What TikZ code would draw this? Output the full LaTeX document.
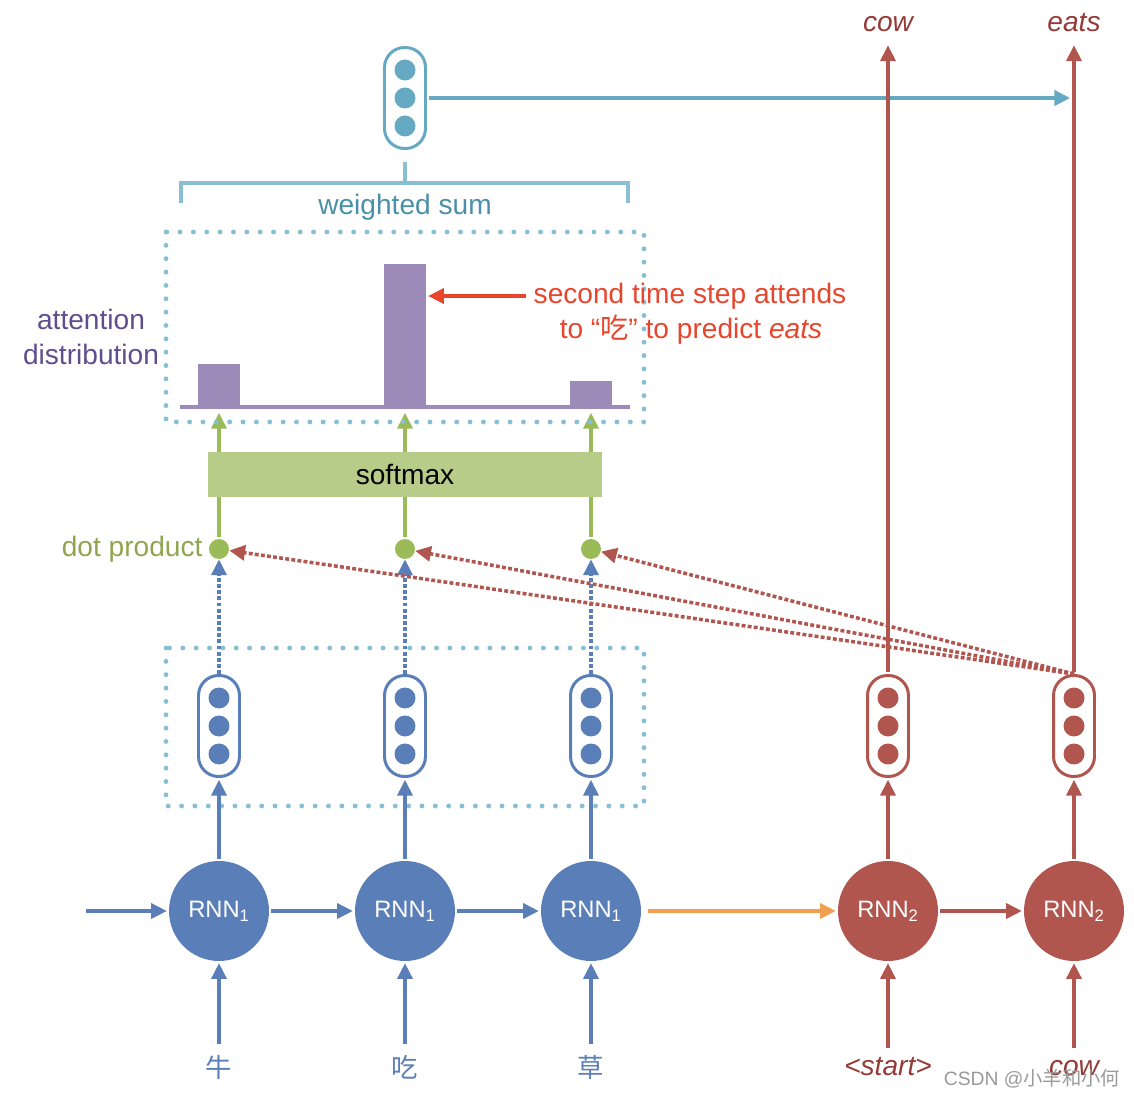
\documentclass[tikz,border=0pt]{standalone}
\usepackage{fontspec}
\setmainfont{Liberation Sans}
\newfontfamily\cjk{Noto Sans CJK SC}
\usetikzlibrary{arrows.meta,positioning,calc}

\definecolor{encblue}{HTML}{5A7FB8}
\definecolor{decred}{HTML}{B0564E}
\definecolor{decword}{HTML}{943B38}
\definecolor{ctxteal}{HTML}{66A9C2}
\definecolor{boxdot}{HTML}{88BFD3}
\definecolor{wsteal}{HTML}{4A8FA8}
\definecolor{attnpurple}{HTML}{9C8BB8}
\definecolor{attnlabel}{HTML}{5E4E8E}
\definecolor{smgreen}{HTML}{9BBB59}
\definecolor{smfill}{HTML}{B8CC8A}
\definecolor{dpgreen}{HTML}{8FA54E}
\definecolor{notered}{HTML}{E8452C}
\definecolor{initorange}{HTML}{F0A050}

\tikzset{
	rnn/.style={circle,minimum size=2cm,inner sep=0pt,text=white,font=\fontsize{13.5}{16}\selectfont},
	vecbox/.style={rectangle,rounded corners=0.4cm,minimum width=0.82cm,minimum height=2.02cm,line width=1.7pt,fill=white},
	vecdot/.style={circle,inner sep=0pt,minimum size=0.42cm},
	flow/.style={line width=2pt,shorten >=1pt,shorten <=1pt,-{Triangle[length=9pt,width=8.5pt]}},
	dotflow/.style={line width=2pt,dash pattern=on 2.2pt off 1.3pt,-{Triangle[length=9pt,width=8.5pt]}},
	attnbox/.style={boxdot,line width=2.8pt,line cap=round,dash pattern=on 0pt off 7.6pt},
	bar/.style={rectangle,fill=attnpurple,anchor=south,minimum width=0.84cm,inner sep=0pt},
	lbl/.style={font=\fontsize{16}{19.5}\selectfont},
	declbl/.style={lbl,text=decword,font=\fontsize{16}{19.5}\selectfont\itshape,anchor=base,text height=11pt,text depth=3pt},
	wordlbl/.style={font=\cjk\fontsize{15}{18}\selectfont,text=encblue,anchor=base,text height=14pt,text depth=2pt},
	dotprod/.style={circle,fill=smgreen,inner sep=0pt,minimum size=0.4cm},
}

\newcommand{\hidvec}[3]
{
	\node[vecbox,draw=#1] at (#2) (#3) {};
	\foreach \dy in {-28,0,28}
		{\node[vecdot,fill=#1] at ($(#3)+(0,\dy)$) {};}
}

\newcommand{\rnncell}[4]
{
	\node[rnn,fill=#1] at (#2) (#3) {RNN\textsubscript{#4}}
}

\begin{document}
\begin{tikzpicture}[x=0.02cm,y=-0.02cm]
	\useasboundingbox (0,0) rectangle (1134,1098);
	
	%%% Encoder RNN
	\rnncell{encblue}{219,911}{enc1}{1};
	\rnncell{encblue}{405,911}{enc2}{1};
	\rnncell{encblue}{591,911}{enc3}{1};
	\coordinate (encin) at (84,911);
	\draw[flow,encblue] (encin) -- (enc1);
	\draw[flow,encblue] (enc1) -- (enc2);
	\draw[flow,encblue] (enc2) -- (enc3);
	
	%%% Source words
	\node[wordlbl] at (219,1077) (w1) {牛};
	\node[wordlbl] at (405,1077) (w2) {吃};
	\node[wordlbl] at (591,1077) (w3) {草};
	\draw[flow,encblue] (w1) -- (enc1);
	\draw[flow,encblue] (w2) -- (enc2);
	\draw[flow,encblue] (w3) -- (enc3);
	
	%%% Encoder hidden states
	\draw[attnbox] (166,648) rectangle (644,806);
	\hidvec{encblue}{219,726}{h1}
	\hidvec{encblue}{405,726}{h2}
	\hidvec{encblue}{591,726}{h3}
	\draw[flow,encblue] (enc1) -- (h1);
	\draw[flow,encblue] (enc2) -- (h2);
	\draw[flow,encblue] (enc3) -- (h3);
	
	%%% Decoder RNN
	\rnncell{decred}{888,911}{dec1}{2};
	\rnncell{decred}{1074,911}{dec2}{2};
	\draw[flow,initorange,shorten <=4pt] (enc3) -- (dec1);
	\draw[flow,decred] (dec1) -- (dec2);
	\node[declbl] at (888,1075) (in1) {<start>};
	\node[declbl] at (1074,1075) (in2) {cow};
	\draw[flow,decred] (in1) -- (dec1);
	\draw[flow,decred] (in2) -- (dec2);
	\hidvec{decred}{888,726}{s1}
	\hidvec{decred}{1074,726}{s2}
	\draw[flow,decred] (dec1) -- (s1);
	\draw[flow,decred] (dec2) -- (s2);
	
	%%% Dot products
	\node[dotprod] at (219,549) (d1) {};
	\node[dotprod] at (405,549) (d2) {};
	\node[dotprod] at (591,549) (d3) {};
	\node[lbl,text=dpgreen,left=0cm of d1] (dplabel) {dot product};
	\draw[dotflow,encblue] (h1) -- (d1);
	\draw[dotflow,encblue] (h2) -- (d2);
	\draw[dotflow,encblue] (h3) -- (d3);
	\draw[dotflow,decred] (s2.north) -- (d1);
	\draw[dotflow,decred] (s2.north) -- (d2);
	\draw[dotflow,decred] (s2.north) -- (d3);
	
	%%% Softmax
	\coordinate (a1) at (219,411);
	\coordinate (a2) at (405,411);
	\coordinate (a3) at (591,411);
	\draw[flow,smgreen] (d1) -- (a1);
	\draw[flow,smgreen] (d2) -- (a2);
	\draw[flow,smgreen] (d3) -- (a3);
	\node[fill=smfill,minimum width=7.88cm,minimum height=0.9cm,lbl] at (405,474.5) (softmax) {softmax};
	
	%%% Attention distribution
	\draw[attnbox] (166,232) rectangle (644,422);
	\draw[attnpurple,line width=2.8pt] (180,407) -- (630,407);
	\node[bar,minimum height=0.84cm] at (219,406) (bar1) {};
	\node[bar,minimum height=2.84cm] at (405,406) (bar2) {};
	\node[bar,minimum height=0.5cm] at (591,406) (bar3) {};
	\node[lbl,text=attnlabel,align=center] at (91,337) (attnlabel) {attention\\distribution};
	\node[lbl,text=notered] at (690,296) (note1) {second time step attends};
	\node[lbl,text=notered] at (691,330) (note2) {to “{\cjk 吃}” to predict \textit{eats}};
	\draw[flow,notered] (note1.west) -- (bar2.east |- note1.west);
	
	%%% Weighted sum
	\draw[boxdot,line width=2.3pt] (181,203) -- (181,183) -- (628,183) -- (628,203);
	\draw[boxdot,line width=2.3pt] (405,183) -- (405,162);
	\node[lbl,text=wsteal] at (405,207) (wslabel) {weighted sum};
	\hidvec{ctxteal}{405,98}{ctx}
	\coordinate (ctxend) at (1072,98);
	\draw[flow,ctxteal,line width=2.6pt] (ctx) -- (ctxend);
	
	%%% Decoder outputs
	\node[declbl] at (888,32) (o1) {cow};
	\node[declbl] at (1074,32) (o2) {eats};
	\draw[flow,decred] (s1) -- (o1);
	\draw[flow,decred] (s2) -- (o2);
	
	\node[text=black!40,font=\fontsize{11}{13}\selectfont] at (1032,1079) (mark) {CSDN @{\cjk 小羊和小何}};
\end{tikzpicture}
\end{document}
